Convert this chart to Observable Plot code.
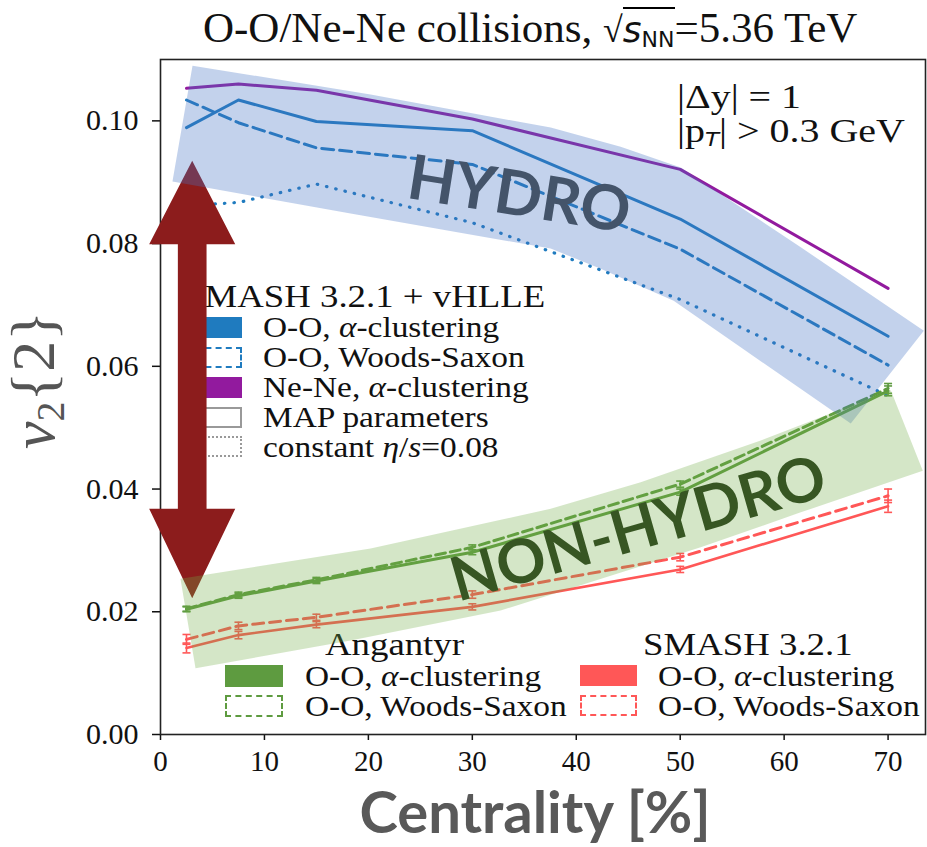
<!DOCTYPE html>
<html><head><meta charset="utf-8">
<script src="https://cdn.jsdelivr.net/npm/d3@7"></script>
<script src="https://cdn.jsdelivr.net/npm/@observablehq/plot@0.6"></script>
<style>
body{margin:0;background:#fff;}
#wrap{position:relative;width:927px;height:847px;overflow:hidden;font-family:"Liberation Serif",serif;color:#111;}
.abs{position:absolute;white-space:nowrap;}
#chart{position:absolute;left:0;top:0;z-index:2;}
.leg{position:absolute;z-index:1;white-space:nowrap;font-size:29px;line-height:30px;height:30px;transform:scaleX(1.15);transform-origin:0 50%;}
.legt{font-size:32px;}
.patch{position:absolute;z-index:1;box-sizing:border-box;}
.m{font-style:italic;}
.ann{font-size:33px;line-height:34px;transform:scaleX(1.21);transform-origin:0 50%;}
</style></head><body>
<div id="wrap">
  <div id="title" class="abs" style="left:203px;top:2px;font-size:43px;line-height:52px;">O-O/Ne-Ne collisions, <span style="font-family:'DejaVu Sans';font-weight:300;font-size:36px;">√</span><span style="border-top:2px solid #000;font-family:'DejaVu Sans';font-size:36px;"><i>s</i><sub style="font-size:22px;vertical-align:-5px;">NN</sub></span>=5.36 TeV</div>
  <div class="abs ann" style="left:677px;top:80px;">|Δy| = 1</div>
  <div class="abs ann" style="left:677px;top:114px;">|p<sub style="font-family:'DejaVu Sans';font-style:italic;font-size:19px;vertical-align:-4px;">T</sub>| &gt; 0.3 GeV</div>
  <div class="abs" style="left:42px;top:380px;width:0;height:0;">
    <div style="position:absolute;transform:translate(-50%,-50%) rotate(-90deg);font-size:62px;color:#555;white-space:nowrap;line-height:64px;"><span class="m">v</span><sub style="font-size:40px;vertical-align:-10px;">2</sub>{2}</div>
  </div>
  <div class="abs" style="left:0;width:1070px;top:778px;text-align:center;font-family:Lato;font-weight:bold;font-size:58px;line-height:66px;color:#595959;">Centrality [%]</div>

  <!-- hydro legend -->
  <div class="leg legt" style="left:184px;top:281px;">SMASH 3.2.1 + vHLLE</div>
  <div class="patch" style="left:185px;top:317px;width:57px;height:21px;background:#1f7bbf;"></div>
  <div class="patch" style="left:185px;top:347px;width:57px;height:21px;border:2.5px dashed #1f7bbf;"></div>
  <div class="patch" style="left:185px;top:377px;width:57px;height:21px;background:#921a9e;"></div>
  <div class="patch" style="left:185px;top:407px;width:57px;height:21px;border:2.5px solid #999;"></div>
  <div class="patch" style="left:185px;top:436px;width:57px;height:21px;border:2.5px dotted #999;"></div>
  <div class="leg" style="left:263px;top:312px;">O-O, <span class="m">α</span>-clustering</div>
  <div class="leg" style="left:263px;top:342px;">O-O, Woods-Saxon</div>
  <div class="leg" style="left:263px;top:372px;">Ne-Ne, <span class="m">α</span>-clustering</div>
  <div class="leg" style="left:263px;top:402px;">MAP parameters</div>
  <div class="leg" style="left:263px;top:432px;">constant <span class="m">η</span>/<span class="m">s</span>=0.08</div>

  <!-- Angantyr legend -->
  <div class="leg legt" style="left:325px;top:629px;">Angantyr</div>
  <div class="patch" style="left:225px;top:665px;width:58px;height:22px;background:#5e9b40;"></div>
  <div class="patch" style="left:225px;top:695px;width:58px;height:22px;border:2.5px dashed #5e9b40;"></div>
  <div class="leg" style="left:305px;top:661px;">O-O, <span class="m">α</span>-clustering</div>
  <div class="leg" style="left:305px;top:691px;">O-O, Woods-Saxon</div>

  <!-- SMASH legend -->
  <div class="leg legt" style="left:643px;top:629px;">SMASH 3.2.1</div>
  <div class="patch" style="left:580px;top:665px;width:57px;height:21px;background:#ff5757;"></div>
  <div class="patch" style="left:580px;top:695px;width:57px;height:21px;border:2.5px dashed #ff5757;"></div>
  <div class="leg" style="left:658px;top:661px;">O-O, <span class="m">α</span>-clustering</div>
  <div class="leg" style="left:658px;top:691px;">O-O, Woods-Saxon</div>

  <div id="chart"></div>
</div>
<script>
// ---- data ----
const centrality = [2.5, 7.5, 15, 30, 50, 70];
// SMASH 3.2.1 + vHLLE (hydro)
const hydroOOAlpha      = [0.0989, 0.1034, 0.0999, 0.0984, 0.0840, 0.0649];
const hydroOOWoodsSaxon = [0.1034, 0.0997, 0.0956, 0.0929, 0.0791, 0.0602];
const hydroNeNeAlpha    = [0.1053, 0.1060, 0.1050, 0.1003, 0.0921, 0.0727];
const hydroOOAlphaEta008 = [0.0862, 0.0867, 0.0897, 0.0834, 0.0709, 0.0552];
// Angantyr
const angOOAlpha      = [0.0204, 0.0226, 0.0250, 0.0297, 0.0395, 0.0560];
const angOOAlphaErr   = [0.0004, 0.0004, 0.0004, 0.0004, 0.0005, 0.0008];
const angOOWoodsSaxon = [0.0205, 0.0228, 0.0252, 0.0305, 0.0408, 0.0564];
const angOOWoodsSaxonErr = [0.0004, 0.0004, 0.0004, 0.0004, 0.0005, 0.0008];
// SMASH 3.2.1
const smashOOAlpha      = [0.0141, 0.0162, 0.0179, 0.0208, 0.0269, 0.0372];
const smashOOAlphaErr   = [0.0008, 0.0006, 0.0005, 0.0005, 0.0005, 0.0010];
const smashOOWoodsSaxon = [0.0155, 0.0177, 0.0191, 0.0228, 0.0289, 0.0389];
const smashOOWoodsSaxonErr = [0.0008, 0.0006, 0.0005, 0.0006, 0.0006, 0.0011];
// axis ticks
const xTicks = [0, 10, 20, 30, 40, 50, 60, 70];
const yTicks = [0.00, 0.02, 0.04, 0.06, 0.08, 0.10];
// annotation shapes (data units)
const hydroBandX = [3.08, 20.21, 37.54, 44.27, 50.05, 61.60, 73.44, 66.41, 55.82, 49.37, 42.35, 37.54, 18.29, 1.15];
const hydroBandY = [0.1090, 0.1043, 0.0989, 0.0958, 0.0924, 0.0794, 0.0658, 0.0507, 0.0631, 0.0707, 0.0759, 0.0792, 0.0849, 0.0901];
const nonHydroBandX = [1.92, 20.21, 37.54, 46.20, 57.75, 70.26, 73.34, 61.60, 51.97, 32.72, 18.29, 3.37];
const nonHydroBandY = [0.0254, 0.0303, 0.0368, 0.0411, 0.0479, 0.0561, 0.0430, 0.0362, 0.0305, 0.0202, 0.0153, 0.0108];
const arrowCenterX = 3.05, arrowHeadHalf = 4.14, arrowShaftHalf = 1.38;
const arrowTipTop = 0.0935, arrowBaseTop = 0.0799, arrowBaseBottom = 0.0368, arrowTipBottom = 0.0222;
const hydroLabel = {x: 34.5, y: 0.0878, text: "HYDRO"};
const nonHydroLabel = {x: 46.0, y: 0.0334, text: "NON-HYDRO"};

// ---- build ----
const rows = (v, e) => centrality.map((c, i) => ({x: c, y: v[i], e: e ? e[i] : 0}));
const pts = (xs, ys) => xs.map((x, i) => ({x, y: ys[i]}));
const arrowPts = [
  [arrowCenterX, arrowTipTop],
  [arrowCenterX + arrowHeadHalf, arrowBaseTop],
  [arrowCenterX + arrowShaftHalf, arrowBaseTop],
  [arrowCenterX + arrowShaftHalf, arrowBaseBottom],
  [arrowCenterX + arrowHeadHalf, arrowBaseBottom],
  [arrowCenterX, arrowTipBottom],
  [arrowCenterX - arrowHeadHalf, arrowBaseBottom],
  [arrowCenterX - arrowShaftHalf, arrowBaseBottom],
  [arrowCenterX - arrowShaftHalf, arrowBaseTop],
  [arrowCenterX - arrowHeadHalf, arrowBaseTop]
].map(([x, y]) => ({x, y}));

const BLUE = "#1f7bbf", PURPLE = "#921a9e", GREEN = "#5e9b40", RED = "#ff5757";
const cap = {draw(ctx, size) { const r = Math.sqrt(size / Math.PI); ctx.moveTo(-r, 0); ctx.lineTo(r, 0); }};
function errMarks(data, color) {
  return [
    Plot.ruleX(data, {x: "x", y1: d => d.y - d.e, y2: d => d.y + d.e, stroke: color, strokeWidth: 1.6}),
    Plot.dot(data, {x: "x", y: d => d.y - d.e, symbol: cap, r: 4, stroke: color, strokeWidth: 1.6}),
    Plot.dot(data, {x: "x", y: d => d.y + d.e, symbol: cap, r: 4, stroke: color, strokeWidth: 1.6})
  ];
}

const angA = rows(angOOAlpha, angOOAlphaErr), angW = rows(angOOWoodsSaxon, angOOWoodsSaxonErr);
const smA = rows(smashOOAlpha, smashOOAlphaErr), smW = rows(smashOOWoodsSaxon, smashOOWoodsSaxonErr);

const chart = Plot.plot({
  width: 927, height: 847,
  marginLeft: 160, marginRight: 2, marginTop: 59, marginBottom: 113,
  style: {background: "transparent", fontFamily: "Liberation Serif", fontSize: "26px", color: "#111"},
  x: {domain: [0, 73.6]},
  y: {domain: [0, 0.1100]},
  marks: [
    Plot.axisY({ticks: yTicks, tickFormat: d => d.toFixed(2), tickSize: 8, tickPadding: 14, fontSize: 30, fontFamily: "Liberation Serif", label: null, strokeWidth: 1.5}),
    Plot.axisX({ticks: xTicks, tickSize: 6, tickPadding: 10, fontSize: 29, fontFamily: "Liberation Serif", label: null, strokeWidth: 1.5}),
    // hydro
    Plot.line(rows(hydroOOAlphaEta008), {x: "x", y: "y", stroke: BLUE, strokeWidth: 3.2, strokeDasharray: "0.5,9", strokeLinecap: "round"}),
    Plot.line(rows(hydroOOWoodsSaxon), {x: "x", y: "y", stroke: BLUE, strokeWidth: 3, strokeDasharray: "12,6"}),
    Plot.line(rows(hydroOOAlpha), {x: "x", y: "y", stroke: BLUE, strokeWidth: 3, strokeLinecap: "round"}),
    Plot.line(rows(hydroNeNeAlpha), {x: "x", y: "y", stroke: PURPLE, strokeWidth: 3, strokeLinecap: "round"}),
    // SMASH
    Plot.line(smW, {x: "x", y: "y", stroke: RED, strokeWidth: 3, strokeDasharray: "11,6"}),
    ...errMarks(smW, RED),
    Plot.line(smA, {x: "x", y: "y", stroke: RED, strokeWidth: 2.6}),
    ...errMarks(smA, RED),
    // Angantyr
    Plot.line(angW, {x: "x", y: "y", stroke: GREEN, strokeWidth: 3, strokeDasharray: "10,5"}),
    ...errMarks(angW, GREEN),
    Plot.line(angA, {x: "x", y: "y", stroke: GREEN, strokeWidth: 3}),
    ...errMarks(angA, GREEN),
    Plot.frame({stroke: "#222", strokeWidth: 1.6}),
    // annotations
    Plot.line(arrowPts, {x: "x", y: "y", fill: "#8c1c1c", stroke: "none", curve: "linear-closed"}),
    Plot.line(pts(hydroBandX, hydroBandY), {x: "x", y: "y", fill: "#4472c4", fillOpacity: 0.32, stroke: "none", curve: "linear-closed"}),
    Plot.line(pts(nonHydroBandX, nonHydroBandY), {x: "x", y: "y", fill: "#70ad47", fillOpacity: 0.3, stroke: "none", curve: "linear-closed"}),
    Plot.text([hydroLabel], {x: "x", y: "y", text: "text", rotate: 9, fontSize: 62, fontWeight: "bold", fontFamily: "Lato", fill: "#44546a"}),
    Plot.text([nonHydroLabel], {x: "x", y: "y", text: "text", rotate: -16, fontSize: 61, fontWeight: "bold", fontFamily: "Lato", fill: "#375623"})
  ]
});
document.getElementById("chart").appendChild(chart);
</script>
</body></html>
